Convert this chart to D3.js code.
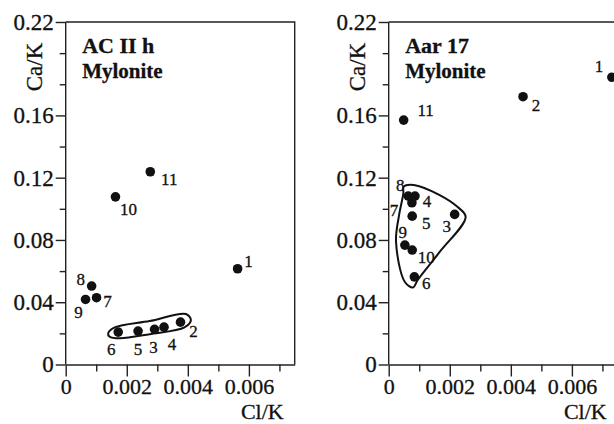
<!DOCTYPE html>
<html>
<head>
<meta charset="utf-8">
<script src="https://cdn.jsdelivr.net/npm/d3@7"></script>
<style>
body { margin:0; background:#fff; }
</style>
</head>
<body>
<div id="svg-area"></div>
<script>
/* Global Variables */
// sample numbers, shared by both panels
var sampleIds = ["1","2","3","4","5","6","7","8","9","10","11"];

// AC II h mylonite
var acClK = [0.00563, 0.00376, 0.00291, 0.00322, 0.00237, 0.00172, 0.00101, 0.00085, 0.00065, 0.00163, 0.00277];
var acCaK = [0.0615, 0.0272, 0.0226, 0.0240, 0.0215, 0.0208, 0.0429, 0.0504, 0.0418, 0.1077, 0.1238];
// outline round samples 2-6
var acLoopClK = [0.00139, 0.00161, 0.00275, 0.00394, 0.0041, 0.00389, 0.00275, 0.00177, 0.00144];
var acLoopCaK = [0.0200, 0.0238, 0.0279, 0.0324, 0.0285, 0.0238, 0.0195, 0.0168, 0.0178];

// Aar 17 mylonite
var aarClK = [0.00731, 0.0044, 0.00216, 0.00086, 0.00077, 0.00084, 0.00076, 0.00064, 0.00053, 0.00077, 0.00049];
var aarCaK = [0.1845, 0.172, 0.0964, 0.1082, 0.0953, 0.0563, 0.1039, 0.1082, 0.0767, 0.0735, 0.157];
// outline round samples 3-10
var aarLoopClK = [0.00049, 0.00082, 0.00167, 0.00226, 0.00252, 0.00167, 0.00095, 0.0008, 0.00053, 0.00024, 0.00034, 0.00048];
var aarLoopCaK = [0.1142, 0.1153, 0.1088, 0.1011, 0.0948, 0.0723, 0.0543, 0.0495, 0.0530, 0.0788, 0.0960, 0.1099];

// ticks
var xMajor = [0, 0.002, 0.004, 0.006];
var xMinor = [0.001, 0.003, 0.005, 0.007];
var yMajor = [0, 0.04, 0.08, 0.12, 0.16, 0.22];
var yMinor = [0.02, 0.06, 0.10, 0.14, 0.18, 0.20];
var xLabels = ["0", "0.002", "0.004", "0.006"];
var yLabels = ["0", "0.04", "0.08", "0.12", "0.16", "0.22"];

var plotW = 229;
var plotH = 342.5;
var serif = "'Liberation Serif', 'Times New Roman', Times, serif";

/* label offsets from the dot, pixels */
var acOffsets = [[11,-7],[13,9],[-1,18],[8,17],[0,18],[-7,17],[11,4],[-11,-7],[-7,13],[13,13],[19,8]];
var aarOffsets = [[-13,-11],[13,9],[-8,12],[12,5],[14,7],[12,7],[-18,8],[-8,-11],[-2,-13],[14,7],[22,-10]];

var svg = d3.select('#svg-area')
    .append('svg')
    .attr('width', 614)
    .attr('height', 424);

drawPanel(65.7, 22, "AC II h", acClK, acCaK, acLoopClK, acLoopCaK, acOffsets);
drawPanel(388.7, 22, "Aar 17", aarClK, aarCaK, aarLoopClK, aarLoopCaK, aarOffsets);

// every text in serif, a little heavier like the printed figure
svg.selectAll('g').attr('font-family', serif);
svg.selectAll('text')
    .style('font-family', serif)
    .attr('fill', '#111')
    .attr('stroke', '#111')
    .attr('stroke-width', 0.3);

/*
 * draw one scatter panel
 * left, top : position of the plot origin corner
 */
function drawPanel(left, top, title, xs, ys, loopX, loopY, offsets){
    var g = svg.append('g').attr('transform', 'translate(' + left + ',' + top + ')');

    var x = d3.scaleLinear().domain([0, 0.0075]).range([0, plotW]);
    var y = d3.scaleLinear().domain([0, 0.22]).range([plotH, 0]);

    // frame top and right
    g.append('path')
	.attr('d', 'M0,0H' + plotW + 'V' + plotH)
	.attr('fill', 'none')
	.attr('stroke', '#222')
	.attr('stroke-width', 1.4);

    // y axis
    var yAxis = g.append('g')
	.call(d3.axisLeft(y).tickValues(yMajor).tickSize(10).tickPadding(2)
	      .tickFormat(function(d, i){ return yLabels[i]; }));
    g.append('g')
	.call(d3.axisLeft(y).tickValues(yMinor).tickSize(6).tickFormat(''))
	.select('.domain').remove();

    // x axis
    var xAxis = g.append('g')
	.attr('transform', 'translate(0,' + plotH + ')')
	.call(d3.axisBottom(x).tickValues(xMajor).tickSize(12).tickSizeOuter(0).tickPadding(2)
	      .tickFormat(function(d, i){ return xLabels[i]; }));
    g.append('g')
	.attr('transform', 'translate(0,' + plotH + ')')
	.call(d3.axisBottom(x).tickValues(xMinor).tickSize(7).tickFormat(''))
	.select('.domain').remove();

    g.selectAll('.domain, .tick line')
	.attr('stroke', '#222')
	.attr('stroke-width', 1.4);
    yAxis.select('.domain').attr('d', 'M0,' + plotH + 'V0');
    yAxis.selectAll('text').style('font-size', '23px');
    xAxis.selectAll('text').style('font-size', '22px');

    // axis titles
    g.append('text')
	.attr('transform', 'translate(-24,45) rotate(-90)')
	.attr('text-anchor', 'middle')
	.style('font-size', '23px')
	.text('Ca/K');
    g.append('text')
	.attr('x', 218)
	.attr('y', 397)
	.attr('text-anchor', 'end')
	.style('font-size', '22px')
	.text('Cl/K');

    // sample name
    g.append('text')
	.attr('x', 16.5)
	.attr('y', 31)
	.style('font-size', '22px')
	.style('font-weight', 'bold')
	.text(title);
    g.append('text')
	.attr('x', 16.5)
	.attr('y', 55.5)
	.style('font-size', '21px')
	.style('font-weight', 'bold')
	.text('Mylonite');

    // outline round the cluster
    var loop = loopX.map(function(d, i){ return [d, loopY[i]]; });
    var line = d3.line()
	.x(function(d){ return x(d[0]); })
	.y(function(d){ return y(d[1]); })
	.curve(d3.curveCatmullRomClosed.alpha(0.5));
    g.append('path')
	.attr('d', line(loop))
	.attr('fill', 'none')
	.attr('stroke', '#111')
	.attr('stroke-width', 2);

    // points
    var pts = sampleIds.map(function(id, i){
	return {id:id, x:xs[i], y:ys[i], off:offsets[i]};
    });
    g.selectAll('circle')
	.data(pts)
	.enter()
	.append('circle')
	.attr('cx', function(d){ return x(d.x); })
	.attr('cy', function(d){ return y(d.y); })
	.attr('r', 4.8)
	.attr('fill', '#111');

    g.selectAll('text.num')
	.data(pts)
	.enter()
	.append('text')
	.attr('class', 'num')
	.attr('x', function(d){ return x(d.x) + d.off[0]; })
	.attr('y', function(d){ return y(d.y) + d.off[1]; })
	.attr('text-anchor', 'middle')
	.attr('dominant-baseline', 'central')
	.style('font-size', '17px')
	.text(function(d){ return d.id; });
}
</script>
</body>
</html>
